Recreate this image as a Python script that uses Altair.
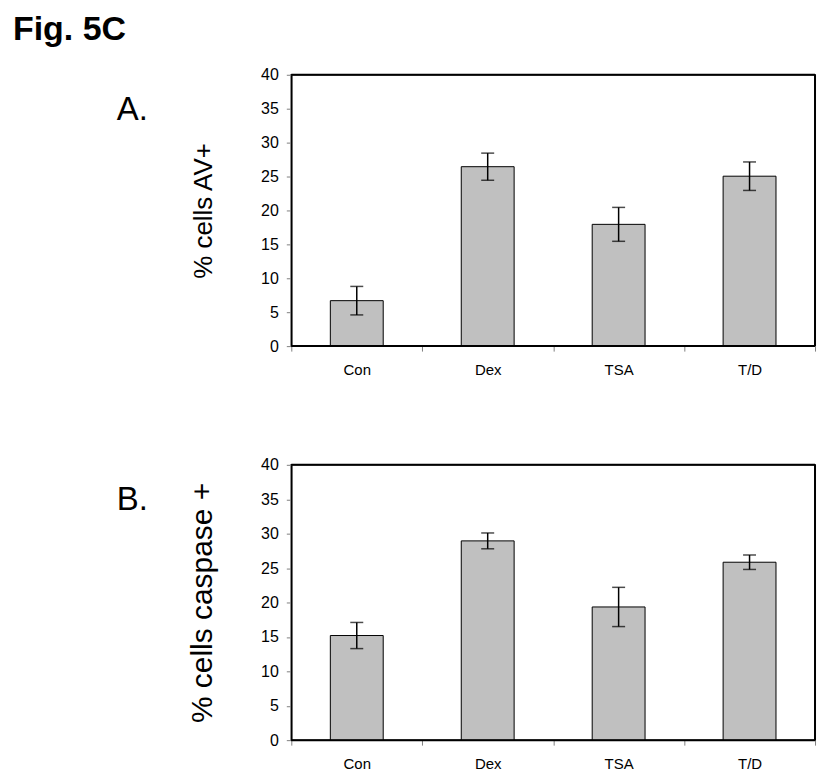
import altair as alt
import pandas as pd

# ---- data ----
categories = ["Con", "Dex", "TSA", "T/D"]
av_mean = [6.7, 26.45, 17.95, 25.05]
av_err = [2.1, 2.0, 2.5, 2.1]
casp_mean = [15.2, 28.95, 19.35, 25.85]
casp_err = [1.9, 1.15, 2.85, 1.05]
y_ticks = [0, 5, 10, 15, 20, 25, 30, 35, 40]
fig_title = ["Fig. 5C"]
panel_letters = ["A.", "B."]
y_titles = ["% cells AV+", "% cells caspase +"]

FONT = "Liberation Sans"


def xenc():
    return alt.X(
        "cat:N",
        sort=categories,
        scale=alt.Scale(paddingInner=0, paddingOuter=0),
        axis=alt.Axis(
            title=None, labelAngle=0, labelFontSize=15, labelFont=FONT,
            labelColor="black", tickColor="#808080", tickSize=5,
            tickBand="extent", domain=False, labelPadding=11,
        ),
    )


def yenc(field, ytitle, tsize):
    return alt.Y(
        f"{field}:Q",
        scale=alt.Scale(domain=[0, 40], nice=False, zero=True),
        axis=alt.Axis(
            values=y_ticks, title=ytitle, titleFontSize=tsize, titleFont=FONT,
            titleFontWeight="normal", titleColor="black", titleX=-80,
            titleBaseline="alphabetic", labelFontSize=16, labelFont=FONT,
            labelColor="black", tickColor="#808080", tickSize=5,
            labelPadding=8, domainColor="black", domainWidth=1.5, grid=False,
        ),
    )


def panel(means, errs, ytitle, tsize, height, letter, extra=None):
    df = pd.DataFrame({
        "cat": categories,
        "mean": means,
        "lo": [m - e for m, e in zip(means, errs)],
        "hi": [m + e for m, e in zip(means, errs)],
    })
    base = alt.Chart(df)
    bars = base.mark_bar(size=53, color="#c0c0c0", stroke="black", strokeWidth=1).encode(
        x=xenc(), y=yenc("mean", ytitle, tsize))
    rules = base.mark_rule(color="black", strokeWidth=1.5).encode(
        x=xenc(), y=yenc("lo", ytitle, tsize), y2="hi:Q")
    cap_hi = base.mark_tick(color="black", size=13, thickness=1.5).encode(
        x=xenc(), y=yenc("hi", ytitle, tsize))
    cap_lo = base.mark_tick(color="black", size=13, thickness=1.5).encode(
        x=xenc(), y=yenc("lo", ytitle, tsize))
    frame = alt.Chart(pd.DataFrame({"v": [0]}))
    frame_top = frame.mark_rule(color="black", strokeWidth=2).encode(
        x=alt.value(0), x2=alt.value(525), y=alt.value(0))
    frame_right = frame.mark_rule(color="black", strokeWidth=2).encode(
        x=alt.value(525), y=alt.value(0), y2=alt.value(height))
    frame_bottom = frame.mark_rule(color="black", strokeWidth=2).encode(
        x=alt.value(0), x2=alt.value(525), y=alt.value(height))
    letter_txt = alt.Chart(pd.DataFrame({"t": [letter]})).mark_text(
        font=FONT, fontSize=33, align="left", baseline="alphabetic", color="black"
    ).encode(text="t:N", x=alt.value(-175), y=alt.value(45))
    layers = [bars, rules, cap_hi, cap_lo, frame_top, frame_right, frame_bottom, letter_txt]
    if extra is not None:
        layers.append(extra)
    return alt.layer(*layers).properties(width=525, height=height)


fig_txt = alt.Chart(pd.DataFrame({"t": fig_title})).mark_text(
    font=FONT, fontSize=34, fontWeight="bold", align="left",
    baseline="alphabetic", color="black"
).encode(text="t:N", x=alt.value(-279), y=alt.value(-35))

panel_a = panel(av_mean, av_err, y_titles[0], 26, 272, panel_letters[0], fig_txt)
panel_b = panel(casp_mean, casp_err, y_titles[1], 30, 276, panel_letters[1])

chart = alt.vconcat(panel_a, panel_b, spacing=78).properties(
    padding={"left": 4, "top": 3, "right": 5, "bottom": 5}
).configure(
    background="white",
    view=alt.ViewConfig(stroke="black", strokeWidth=1.5),
)

chart.save("out.html", embed_options={"renderer": "svg", "actions": False})
